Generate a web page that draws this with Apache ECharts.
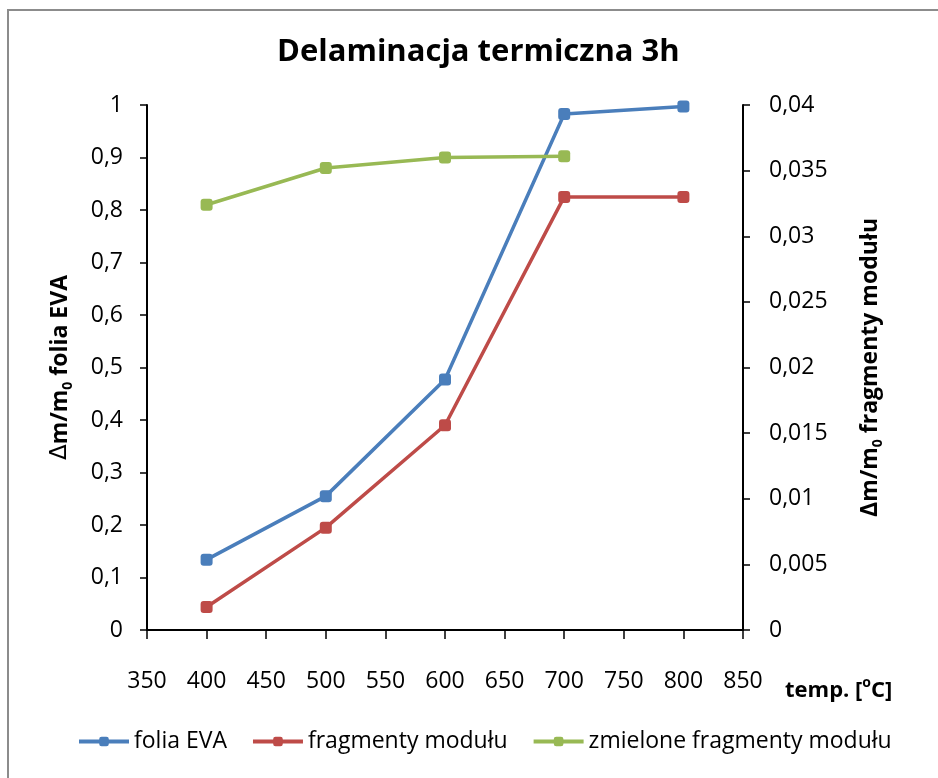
<!DOCTYPE html>
<html>
<head>
<meta charset="utf-8">
<title>Delaminacja termiczna 3h</title>
<script src="https://cdn.jsdelivr.net/npm/echarts@6/dist/echarts.min.js"></script>
<style>
  html, body { margin: 0; padding: 0; background: #fff; }
  #frame {
    position: absolute; left: 7px; top: 9px;
    width: 960px; height: 800px;
    border: 2px solid #8c8c8c; box-sizing: border-box;
  }
  #main { position: absolute; left: 0; top: 0; width: 938px; height: 778px; }
</style>
</head>
<body>
<div id="frame"></div>
<div id="main"></div>
<script>
// dane
var temps = [400, 500, 600, 700, 800];
var foliaEVA = [0.134, 0.255, 0.477, 0.983, 0.997];
var fragmentyModulu = [0.00175, 0.0078, 0.0156, 0.033, 0.033];
var zmieloneFragmenty = [0.0324, 0.0352, 0.0360, 0.0361];

var xTicks = { min: 350, max: 850, interval: 50 };
var yLeftTicks = { min: 0, max: 1, interval: 0.1 };
var yRightTicks = { min: 0, max: 0.04, interval: 0.005 };

var FONT = "'Open Sans', sans-serif";

function pairs(xs, ys) {
  var out = [];
  for (var i = 0; i < ys.length; i++) out.push([xs[i], ys[i]]);
  return out;
}
function comma(v) {
  return String(+v.toFixed(4)).replace('.', ',');
}

var nameRich = {
  d: { fontSize: 23, fontFamily: 'DejaVu Sans', color: '#000', lineHeight: 30 },
  a: { fontSize: 23, fontWeight: 'bold', fontFamily: FONT, color: '#000', lineHeight: 30 },
  s: { fontSize: 14, fontWeight: 'bold', fontFamily: FONT, color: '#000', verticalAlign: 'bottom', lineHeight: 24 }
};

var myChart = echarts.init(document.getElementById('main'));
myChart.setOption({
  backgroundColor: 'transparent',
  animation: false,
  textStyle: { fontFamily: FONT, color: '#000' },
  title: {
    text: 'Delaminacja termiczna 3h',
    left: 272,
    top: 32,
    textStyle: { fontFamily: FONT, fontWeight: 'bold', fontSize: 31, color: '#000' }
  },
  grid: { left: 147, right: 195, top: 105, bottom: 148 },
  legend: {
    bottom: 20,
    left: 72,
    itemWidth: 50,
    itemHeight: 12,
    itemGap: 24,
    lineStyle: { width: 4 },
    textStyle: { fontFamily: FONT, fontSize: 23, color: '#000' },
    data: ['folia EVA', 'fragmenty modułu', 'zmielone fragmenty modułu']
  },
  xAxis: {
    type: 'value',
    min: xTicks.min, max: xTicks.max, interval: xTicks.interval,
    splitLine: { show: false },
    axisLine: { onZero: false, lineStyle: { color: '#000', width: 2 } },
    axisTick: { length: 9, lineStyle: { color: '#000', width: 1.5 } },
    axisLabel: { margin: 40, fontSize: 23, color: '#000', fontFamily: FONT }
  },
  yAxis: [
    {
      type: 'value',
      min: yLeftTicks.min, max: yLeftTicks.max, interval: yLeftTicks.interval,
      splitLine: { show: false },
      axisLine: { show: true, lineStyle: { color: '#000', width: 2 } },
      axisTick: { show: true, length: 7, lineStyle: { color: '#000', width: 1.5 } },
      axisLabel: { margin: 24, fontSize: 23, color: '#000', fontFamily: FONT, formatter: comma },
      name: '{d|\u0394}{a|m/m}{s|0}{a| folia EVA}',
      nameLocation: 'middle',
      nameRotate: 90,
      nameGap: 72,
      nameTextStyle: { rich: nameRich }
    },
    {
      type: 'value',
      position: 'right',
      min: yRightTicks.min, max: yRightTicks.max, interval: yRightTicks.interval,
      splitLine: { show: false },
      axisLine: { show: true, lineStyle: { color: '#000', width: 2 } },
      axisTick: { show: true, length: 7, lineStyle: { color: '#000', width: 1.5 } },
      axisLabel: { margin: 26, fontSize: 23, color: '#000', fontFamily: FONT, formatter: comma },
      name: '{a|\u0394m/m}{s|0}{a| fragmenty modułu}',
      nameLocation: 'middle',
      nameRotate: 90,
      nameGap: 112,
      nameTextStyle: { rich: nameRich }
    }
  ],
  graphic: [
    {
      type: 'text',
      left: 785,
      top: 676,
      style: {
        text: '{a|temp. [}{o|o}{a|C]}',
        rich: {
          a: { fontSize: 22, fontWeight: 'bold', fontFamily: FONT, fill: '#000', lineHeight: 30 },
          o: { fontSize: 14, fontWeight: 'bold', fontFamily: FONT, fill: '#000', verticalAlign: 'top', lineHeight: 26 }
        }
      }
    }
  ],
  series: [
    {
      name: 'folia EVA',
      type: 'line',
      yAxisIndex: 0,
      data: pairs(temps, foliaEVA),
      symbol: 'roundRect',
      symbolSize: 12,
      lineStyle: { width: 3.5, color: '#4a7ebb' },
      itemStyle: { color: '#4a7ebb' }
    },
    {
      name: 'fragmenty modułu',
      type: 'line',
      yAxisIndex: 1,
      data: pairs(temps, fragmentyModulu),
      symbol: 'roundRect',
      symbolSize: 12,
      lineStyle: { width: 3.5, color: '#be4b48' },
      itemStyle: { color: '#be4b48' }
    },
    {
      name: 'zmielone fragmenty modułu',
      type: 'line',
      yAxisIndex: 1,
      data: pairs(temps, zmieloneFragmenty),
      symbol: 'roundRect',
      symbolSize: 12,
      lineStyle: { width: 3.5, color: '#98b954' },
      itemStyle: { color: '#98b954' }
    }
  ]
});
</script>
</body>
</html>
